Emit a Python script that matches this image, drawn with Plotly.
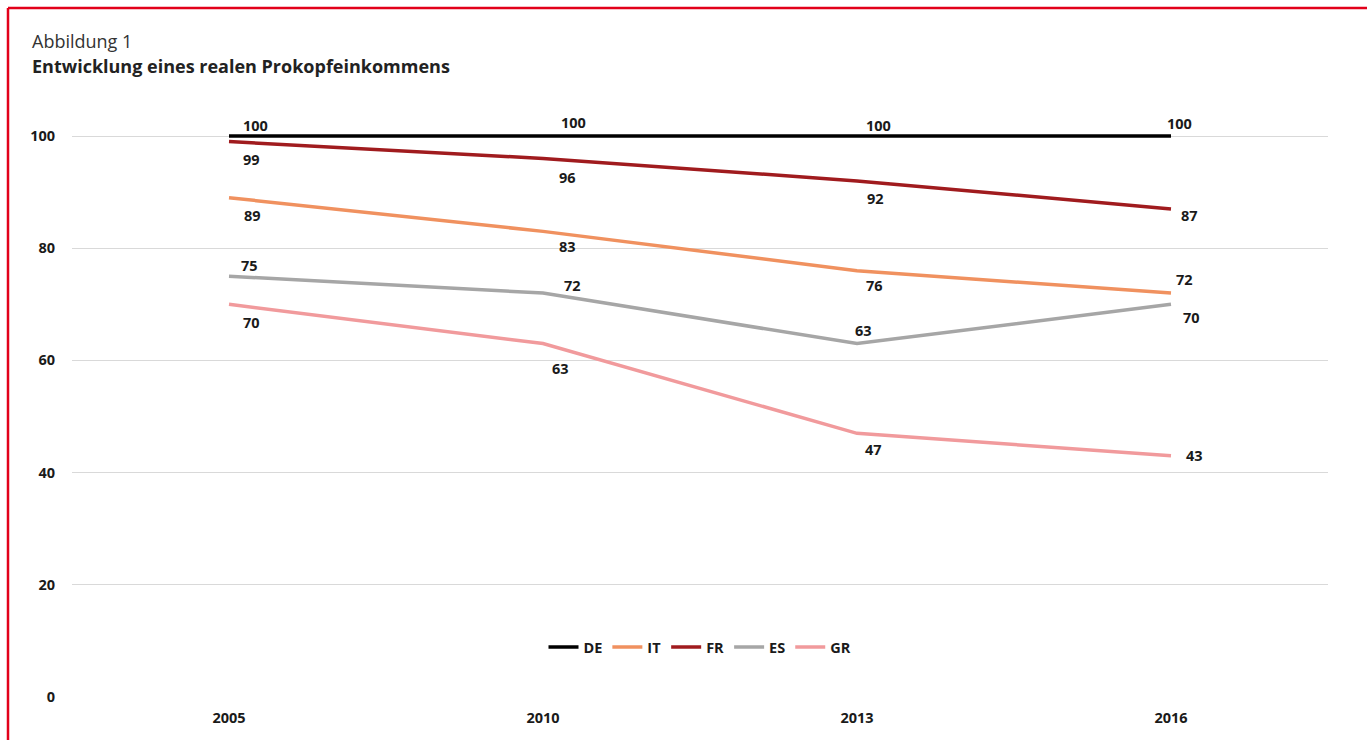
import plotly.graph_objects as go

years = ["2005", "2010", "2013", "2016"]
series_names = ["DE", "IT", "FR", "ES", "GR"]
de = [100, 100, 100, 100]
it = [89, 83, 76, 72]
fr = [99, 96, 92, 87]
es = [75, 72, 63, 70]
gr = [70, 63, 47, 43]
y_ticks = [0, 20, 40, 60, 80, 100]

values = {"DE": de, "IT": it, "FR": fr, "ES": es, "GR": gr}
colors = {"DE": "#000000", "IT": "#F0915F", "FR": "#A01B1E", "ES": "#A6A6A6", "GR": "#F19A9C"}
# label offsets in pixels (xshift, yshift) per point – style only
offsets = {
    "DE": [(12, 11), (16, 14), (7, 11), (-6, 13)],
    "FR": [(12, -18), (14, -19), (8, -18), (8, -7)],
    "IT": [(13, -18), (14, -15), (7, -15), (3, 14)],
    "ES": [(10, 11), (19, 8), (-4, 13), (10, -13)],
    "GR": [(12, -18), (7, -25), (6, -16), (13, 0)],
}

FONT = "Open Sans, Noto Sans, sans-serif"
FS = 14.5

W, H = 1367, 740
L, R, T, B = 72, 39, 133, 43
pw, ph = W - L - R, H - T - B
px_per_unit = (697 - 136) / 100.0
y_max = ph / px_per_unit


def px_x(x):
    return (x - L) / pw


def px_y(y):
    return (H - B - y) / ph


fig = go.Figure()
for name in series_names:
    fig.add_trace(go.Scatter(
        x=years, y=values[name], name=name, mode="lines",
        line=dict(color=colors[name], width=3.5),
    ))

annotations = []
for name in series_names:
    for i, yv in enumerate(values[name]):
        dx, dy = offsets[name][i]
        annotations.append(dict(
            x=i, y=yv, xref="x", yref="y", text=str(yv), showarrow=False,
            xanchor="left", yanchor="middle", xshift=dx, yshift=dy,
            font=dict(family=FONT, size=FS, color="#1a1a1a", weight="bold"),
        ))

annotations.append(dict(
    x=px_x(31), y=px_y(41), xref="paper", yref="paper", text="Abbildung 1",
    showarrow=False, xanchor="left", yanchor="middle", borderpad=0,
    font=dict(family=FONT, size=18, color="#333333"),
))
annotations.append(dict(
    x=px_x(31), y=px_y(66), xref="paper", yref="paper",
    text="<b>Entwicklung eines realen Prokopfeinkommens</b>",
    showarrow=False, xanchor="left", yanchor="middle", borderpad=0,
    font=dict(family=FONT, size=18, color="#222222"),
))

shapes = [
    dict(type="line", xref="paper", yref="paper", x0=px_x(8), x1=px_x(1380),
         y0=px_y(8), y1=px_y(8), line=dict(color="#E2001A", width=2.5)),
    dict(type="line", xref="paper", yref="paper", x0=px_x(8), x1=px_x(8),
         y0=px_y(8), y1=px_y(760), line=dict(color="#E2001A", width=2.5)),
]

fig.update_layout(
    width=W, height=H,
    margin=dict(l=L, r=R, t=T, b=B, pad=0),
    paper_bgcolor="white", plot_bgcolor="white",
    font=dict(family=FONT, size=FS, color="#1a1a1a"),
    showlegend=True,
    legend=dict(orientation="h", x=0.5, xanchor="center", y=px_y(647), yanchor="middle",
                font=dict(family=FONT, size=FS, color="#1a1a1a", weight="bold"),
                bgcolor="rgba(0,0,0,0)", itemwidth=30, tracegroupgap=0),
    xaxis=dict(type="category", range=[-0.5, 3.5], showgrid=False, zeroline=False,
               showline=False, ticks="", ticklabelstandoff=10,
               tickfont=dict(family=FONT, size=FS, color="#1a1a1a", weight="bold")),
    yaxis=dict(range=[0, y_max], tickvals=y_ticks, showgrid=True, gridcolor="#D9D9D9",
               gridwidth=1, zeroline=False, showline=False, ticks="",
               ticklabelstandoff=16,
               tickfont=dict(family=FONT, size=FS, color="#1a1a1a", weight="bold")),
    annotations=annotations,
    shapes=shapes,
)
fig.update_traces(cliponaxis=False)

fig.write_html("out.html")
